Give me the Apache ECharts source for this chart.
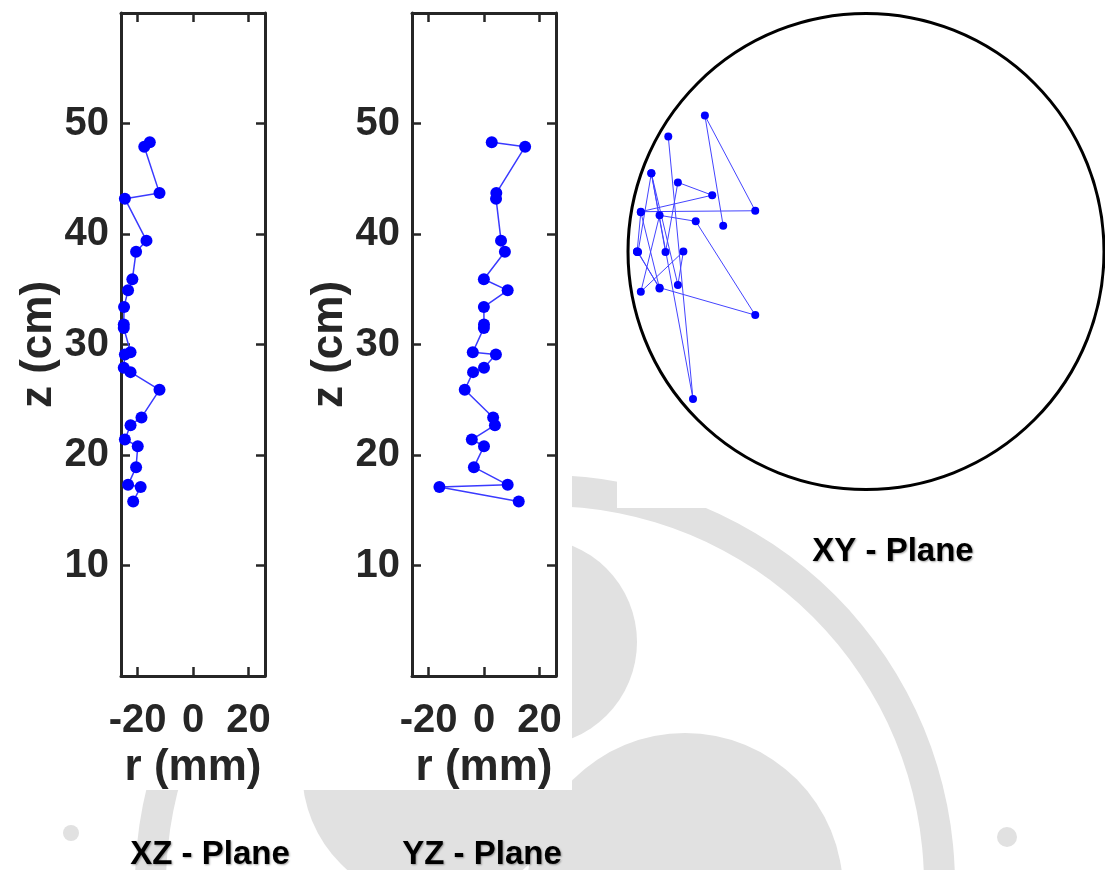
<!DOCTYPE html>
<html>
<head>
<meta charset="utf-8">
<style>
  html, body { margin: 0; padding: 0; background: #ffffff; }
  #chart { width: 1105px; height: 870px; }
</style>
<script src="https://cdn.jsdelivr.net/npm/echarts@6/dist/echarts.min.js"></script>
</head>
<body>
<div id="chart"></div>
<script>
// ---- data (mm for x / y, cm for z), in trajectory order ----
const xVals = [-15.6, -17.6, -12.1, -24.6, -16.8, -20.55, -21.9, -23.45, -24.9, -25.0, -25.0, -22.55,
               -24.6, -25.0, -22.55, -12.1, -18.6, -22.55, -24.6, -19.95, -20.55, -23.45, -18.9, -21.6];
const yVals = [2.8, 14.85, 4.45, 4.35, 6.15, 7.55, -0.05, 8.55, -0.05, 0.0, -0.05, -4.05,
               4.3, 0.0, -3.95, -6.95, 3.3, 3.95, -4.4, 0.0, -3.65, 8.55, -16.1, 12.55];
const zVals = [48.3, 47.9, 43.7, 43.2, 39.4, 38.4, 35.9, 34.9, 33.4, 31.8, 31.5, 29.3,
               29.1, 27.9, 27.5, 25.9, 23.4, 22.7, 21.4, 20.8, 18.9, 17.3, 17.1, 15.8];
const rTicks = [-20, 0, 20];
const rRange = [-26, 26];
const zRange = [0, 60];
const zTickLabels = [10, 20, 30, 40, 50];
const circleRadius = 26;
const panelTitles = ['XZ - Plane', 'YZ - Plane', 'XY - Plane'];
const rAxisName = 'r (mm)';
const zAxisName = 'z (cm)';

const FONT = "'Liberation Sans', Arial, Helvetica, sans-serif";
const AX = '#262626';
const BLUE = '#0000ff';
const GREY = '#e1e1e1';

const xz = xVals.map((v, i) => [v, zVals[i]]);
const yz = yVals.map((v, i) => [v, zVals[i]]);
const xy = xVals.map((v, i) => [v, yVals[i]]);

const axLine = { show: true, onZero: false, lineStyle: { color: AX, width: 3 } };
const tickIn = { show: true, inside: true, length: 9, lineStyle: { color: AX, width: 2.5 } };
const lblStyle = { color: AX, fontFamily: FONT, fontWeight: 'bold', fontSize: 40 };

function rAxis(grid, pos, withLabels) {
  return {
    type: 'value', gridIndex: grid, position: pos, min: rRange[0], max: rRange[1], z: 10,
    axisLine: axLine,
    axisTick: Object.assign({ customValues: rTicks }, tickIn),
    axisLabel: withLabels ? Object.assign({ show: true, customValues: rTicks, margin: 25 }, lblStyle) : { show: false },
    splitLine: { show: false },
    name: withLabels ? rAxisName : '',
    nameLocation: 'middle', nameGap: 64,
    nameTextStyle: { color: AX, fontFamily: FONT, fontWeight: 'bold', fontSize: 44 }
  };
}
function zAxis(grid, pos, withLabels) {
  return {
    type: 'value', gridIndex: grid, position: pos, min: zRange[0], max: zRange[1], interval: 10, z: 10,
    axisLine: axLine,
    axisTick: tickIn,
    axisLabel: withLabels ? Object.assign({
      show: true, margin: 12,
      formatter: v => (zTickLabels.indexOf(v) >= 0 ? String(v) : '')
    }, lblStyle) : { show: false },
    splitLine: { show: false },
    name: withLabels ? zAxisName : '',
    nameLocation: 'middle', nameGap: 58,
    nameTextStyle: { color: AX, fontFamily: FONT, fontWeight: 'bold', fontSize: 44 }
  };
}

const titleStyle = (t, x, y) => ({
  type: 'text', x: x, y: y, z: 20,
  style: {
    text: t, fill: '#000', font: "bold 33px " + FONT, align: 'center', verticalAlign: 'middle',
    textShadowColor: 'rgba(0,0,0,0.35)', textShadowBlur: 2, textShadowOffsetX: 1, textShadowOffsetY: 1
  }
});

const option = {
  animation: false,
  backgroundColor: '#ffffff',
  grid: [
    { left: 121, top: 13, width: 144, height: 663 },
    { left: 412, top: 13, width: 144, height: 663 },
    { left: 628, top: 13.5, width: 476, height: 476 }
  ],
  xAxis: [
    rAxis(0, 'bottom', true), rAxis(0, 'top', false),
    rAxis(1, 'bottom', true), rAxis(1, 'top', false),
    { type: 'value', gridIndex: 2, min: -circleRadius, max: circleRadius, show: false }
  ],
  yAxis: [
    zAxis(0, 'left', true), zAxis(0, 'right', false),
    zAxis(1, 'left', true), zAxis(1, 'right', false),
    { type: 'value', gridIndex: 2, min: -circleRadius, max: circleRadius, show: false }
  ],
  graphic: [
    // faint watermark behind the figure
    { type: 'ring', z: 1, silent: true, shape: { cx: 545, cy: 885, r: 410, r0: 379 }, style: { fill: GREY } },
    { type: 'circle', z: 1, silent: true, shape: { cx: 685, cy: 891, r: 158 }, style: { fill: GREY } },
    { type: 'circle', z: 1, silent: true, shape: { cx: 435, cy: 770, r: 133 }, style: { fill: GREY } },
    { type: 'circle', z: 1, silent: true, shape: { cx: 533, cy: 642, r: 104 }, style: { fill: GREY } },
    { type: 'circle', z: 1, silent: true, shape: { cx: 1007, cy: 837, r: 10 }, style: { fill: GREY } },
    { type: 'circle', z: 1, silent: true, shape: { cx: 71, cy: 833, r: 8 }, style: { fill: GREY } },
    // white figure panels
    { type: 'rect', z: 3, silent: true, shape: { x: 0, y: 0, width: 572, height: 790 }, style: { fill: '#ffffff' } },
    { type: 'rect', z: 3, silent: true, shape: { x: 617, y: 0, width: 488, height: 508 }, style: { fill: '#ffffff' } },
    titleStyle(panelTitles[0], 210, 855),
    titleStyle(panelTitles[1], 482, 855),
    titleStyle(panelTitles[2], 893, 552)
  ],
  series: [
    {
      type: 'line', xAxisIndex: 0, yAxisIndex: 0, data: xz, z: 12,
      symbol: 'circle', symbolSize: 12, showAllSymbol: true,
      itemStyle: { color: BLUE }, lineStyle: { color: '#3a3aff', width: 1.5 }
    },
    {
      type: 'line', xAxisIndex: 2, yAxisIndex: 2, data: yz, z: 12,
      symbol: 'circle', symbolSize: 12, showAllSymbol: true,
      itemStyle: { color: BLUE }, lineStyle: { color: '#3a3aff', width: 1.5 }
    },
    {
      type: 'custom', xAxisIndex: 4, yAxisIndex: 4, data: [[0, 0]], z: 11, silent: true, clip: false,
      renderItem: function (params, api) {
        const c = api.coord([api.value(0), api.value(1)]);
        const r = api.size([circleRadius, 0])[0];
        return { type: 'circle', shape: { cx: c[0], cy: c[1], r: r },
                 style: { fill: 'transparent', stroke: '#000', lineWidth: 3 } };
      }
    },
    {
      type: 'line', xAxisIndex: 4, yAxisIndex: 4, data: xy, z: 12,
      symbol: 'circle', symbolSize: 8, showAllSymbol: true,
      itemStyle: { color: BLUE }, lineStyle: { color: '#4444ff', width: 1 }
    }
  ]
};

const chart = echarts.init(document.getElementById('chart'), null, { renderer: 'canvas' });
chart.setOption(option);
</script>
</body>
</html>
